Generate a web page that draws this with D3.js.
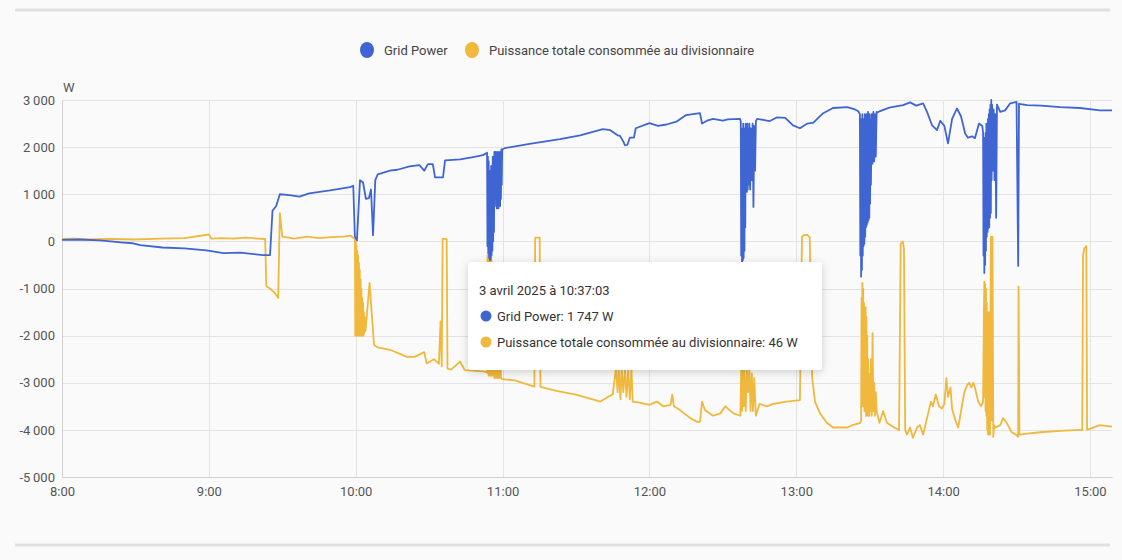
<!DOCTYPE html>
<html>
<head>
<meta charset="utf-8">
<script src="https://cdn.jsdelivr.net/npm/d3@7"></script>
<style>
  html, body { margin: 0; padding: 0; background: #fafafa; }
  svg { display: block; font-family: Roboto, "Noto Sans", sans-serif; }
</style>
</head>
<body>
<svg id="chart" width="1122" height="560"></svg>
<script>
// ---------- DATA ----------
const seriesNames = ["Grid Power", "Puissance totale consommée au divisionnaire"];
const yTicks = [3000, 2000, 1000, 0, -1000, -2000, -3000, -4000, -5000];
const xTickHours = ["08:00","09:00","10:00","11:00","12:00","13:00","14:00","15:00"];
const xDomain = ["08:00", "15:09"];
const unitLabel = "W";
const tooltipTitle = "3 avril 2025 à 10:37:03";
const tooltipValues = [1747, 46];

const gridPower = [
  ["08:00",30],["08:07",40],["08:15:30",20],["08:24",-20],["08:29",-40],["08:32",-80],
  ["08:41",-130],["08:50",-150],["08:59",-190],["09:06",-250],["09:13",-240],["09:22",-290],
  ["09:25",-290],["09:26",650],["09:27:30",750],["09:29",1000],["09:33",980],["09:37",950],
  ["09:41",1020],["09:49:30",1080],["09:57:40",1150],["09:59",1180],["09:59:40",100],
  ["10:00:30",20],["10:01:45",1300],["10:03",1250],["10:04:10",900],["10:05:25",920],
  ["10:06:15",1100],["10:07:05",130],["10:08",1300],["10:09",1420],["10:14",1500],
  ["10:17",1520],["10:22",1590],["10:26",1620],["10:28",1500],["10:29:30",1640],
  ["10:31:30",1640],["10:32:25",1360],["10:35:40",1360],["10:36:30",1720],["10:42:40",1740],
  ["10:48",1790],["10:52",1830],["10:53:40",1880],
  ["10:53:50",-100],["10:54:00",1800],["10:54:10",-250],["10:54:20",1700],["10:54:30",-350],
  ["10:54:40",1500],["10:54:50",-400],["10:55:00",1200],["10:55:10",-380],["10:55:20",1600],
  ["10:55:30",-300],["10:55:40",1400],["10:55:50",-200],["10:56:00",1800],["10:56:10",0],
  ["10:56:20",1700],["10:56:30",200],["10:56:40",1900],["10:57:00",1000],["10:57:10",1900],
  ["10:57:20",750],["10:57:30",1850],["10:57:40",700],["10:57:50",1900],["10:58:00",750],
  ["10:58:10",1800],["10:58:20",700],["10:58:30",1900],["10:58:40",800],["10:58:50",1850],
  ["10:59:00",750],["10:59:10",1900],["10:59:20",900],["10:59:30",1950],["10:59:40",1200],
  ["10:59:50",1950],
  ["11:01",1980],["11:11",2070],["11:23:30",2170],["11:31:40",2250],["11:41",2380],
  ["11:44",2360],["11:47",2250],["11:48",2240],["11:49:30",2100],["11:50",2040],["11:51",2050],
  ["11:52",2200],["11:53:40",2200],["11:54:25",2400],["12:00",2510],["12:03:30",2450],
  ["12:07",2480],["12:11",2540],["12:15",2680],["12:20:40",2720],["12:21:30",2500],
  ["12:23:30",2560],["12:26",2600],["12:30",2560],["12:32",2590],["12:37",2600],
  ["12:37:20",2550],["12:37:30",-300],["12:37:40",2400],["12:37:50",-430],["12:38:00",2300],
  ["12:38:10",-400],["12:38:20",2500],["12:38:30",-350],["12:38:40",2200],["12:38:50",-200],
  ["12:39:00",2400],["12:39:10",300],["12:39:20",2500],["12:39:30",1100],["12:39:40",2300],
  ["12:39:50",1050],["12:40:00",2500],["12:40:10",1100],["12:40:20",2400],["12:40:30",1200],
  ["12:40:50",2500],["12:41:10",1100],["12:41:30",2400],["12:41:50",1300],["12:42:10",2500],
  ["12:42:30",730],["12:42:50",2450],["12:43:10",1500],["12:43:30",2550],["12:44:00",2600],
  ["12:46:30",2580],["12:49",2550],["12:52",2630],["12:55:30",2620],["12:58:40",2460],
  ["13:01:30",2400],["13:04:30",2500],["13:07",2520],["13:11",2720],["13:15",2830],
  ["13:20:50",2850],["13:24",2800],["13:25:20",2760],
  ["13:26:00",2700],["13:26:10",-300],["13:26:20",2600],["13:26:30",-750],["13:26:40",2500],
  ["13:26:50",-600],["13:27:00",2700],["13:27:10",-300],["13:27:20",2600],["13:27:30",-100],
  ["13:27:40",2500],["13:27:50",-50],["13:28:00",2700],["13:28:10",100],["13:28:20",2600],
  ["13:28:30",300],["13:28:40",2700],["13:28:50",350],["13:29:00",2600],["13:29:10",400],
  ["13:29:20",2750],["13:29:30",450],["13:29:40",2650],["13:29:50",500],["13:30:00",2700],
  ["13:30:10",800],["13:30:20",2600],["13:30:30",1200],["13:30:50",2700],["13:31:10",1650],
  ["13:31:30",2750],["13:31:50",1700],["13:32:10",2700],["13:32:30",1800],["13:32:50",2750],
  ["13:33:00",2730],
  ["13:34",2760],["13:38",2840],["13:43:40",2890],["13:46:30",2950],["13:49",2880],
  ["13:51:50",2930],["13:53:25",2750],["13:55:30",2460],["13:57:30",2360],["13:58:50",2560],
  ["14:00:30",2450],["14:02",2080],["14:03:40",2600],["14:05:40",2820],["14:07:20",2650],
  ["14:09",2290],["14:10:10",2200],["14:11:50",2230],["14:13",2190],["14:14:40",2500],
  ["14:16",2450],
  ["14:16:20",2300],["14:16:30",-300],["14:16:40",2200],["14:16:50",-670],["14:17:00",2000],
  ["14:17:10",-500],["14:17:20",2300],["14:17:30",-200],["14:17:40",2500],["14:17:50",100],
  ["14:18:00",2400],["14:18:10",200],["14:18:20",2600],["14:18:30",280],["14:18:40",2700],
  ["14:18:50",300],["14:19:00",2800],["14:19:10",500],["14:19:20",2900],["14:19:30",600],
  ["14:19:40",3000],["14:19:50",1300],["14:20:00",2900],["14:20:20",1500],["14:20:40",2800],
  ["14:21:00",1300],["14:21:20",2700],["14:21:40",500],["14:22:00",2900],
  ["14:23:20",2750],["14:25:20",2780],["14:27:25",2930],["14:30",2960],["14:30:40",-520],
  ["14:31",2920],["14:34:20",2890],["14:40",2880],["14:47:50",2850],["14:56",2830],
  ["15:04",2780],["15:09",2780]
];

const consumption = [
  ["08:00",50],["08:05",60],["08:10",40],["08:20",50],["08:30",40],["08:40",60],["08:50",70],
  ["08:58",130],["09:00",150],["09:01",60],["09:05",70],["09:10",60],["09:15",80],["09:20",60],
  ["09:23",50],["09:23:30",-950],["09:25",-1000],["09:27",-1100],["09:28:20",-1200],
  ["09:29",600],["09:30",100],["09:35",60],["09:40",100],["09:45",70],["09:50",90],
  ["09:55",100],["09:58",120],
  ["09:59:40",50],["09:59:50",-2000],["10:00:00",0],["10:00:10",-2000],["10:00:20",-100],
  ["10:00:30",-2000],["10:00:40",-200],["10:00:50",-2000],["10:01:00",-300],["10:01:10",-2000],
  ["10:01:20",-450],["10:01:30",-2000],["10:01:40",-600],["10:01:50",-2000],["10:02:00",-800],
  ["10:02:10",-2000],["10:02:20",-1000],["10:02:30",-2000],["10:02:40",-1200],["10:02:50",-2000],
  ["10:03:00",-1300],["10:03:10",-2000],["10:03:20",-1500],["10:03:30",-1950],["10:03:40",-1600],
  ["10:04:00",-1900],["10:05:40",-880],["10:06:30",-1500],["10:07:30",-2200],["10:09",-2250],
  ["10:14",-2300],["10:21",-2450],["10:24",-2450],["10:28",-2350],["10:29",-2590],
  ["10:32",-2500],["10:34:00",-2600],["10:34:40",-1700],["10:35:10",-2650],["10:35:30",60],
  ["10:37:10",46],["10:37:30",-2700],["10:39",-2720],["10:42:40",-2550],["10:44:30",-2730],
  ["10:52",-2760],["10:53:40",-2780],
  ["10:53:50",-300],["10:54:00",-2800],["10:54:10",-250],["10:54:20",-2850],["10:54:30",-300],
  ["10:54:40",-2800],["10:54:50",-280],["10:55:00",-2850],["10:55:10",-350],["10:55:20",-2800],
  ["10:55:30",-400],["10:55:40",-2850],["10:55:50",-500],["10:56:00",-2850],["10:56:20",-900],
  ["10:56:40",-2900],["10:57:00",-1200],["10:57:20",-2900],["10:57:40",-1000],["10:58:00",-2900],
  ["10:58:20",-1100],["10:58:40",-2900],["10:59:00",-1100],["10:59:20",-2900],["10:59:40",-2920],
  ["11:01",-2930],["11:05",-2950],["11:13:00",-3080],["11:13:20",80],["11:15:10",80],
  ["11:15:30",-3090],["11:22",-3170],["11:30",-3250],["11:40",-3400],["11:43",-3300],
  ["11:45:00",-3250],["11:46:20",-2700],["11:47:00",-3200],["11:47:30",-2700],["11:48:10",-3350],
  ["11:48:40",-2700],["11:49:20",-3200],["11:50:00",-2700],["11:50:40",-3300],["11:51:20",-2700],
  ["11:52:00",-3350],["11:52:40",-2700],["11:53:10",-3400],
  ["11:56",-3420],["12:00",-3470],["12:03",-3400],["12:05:40",-3500],["12:08:40",-3470],
  ["12:09:20",-3250],["12:10",-3500],["12:12:30",-3580],["12:16:40",-3750],["12:19:30",-3830],
  ["12:20:40",-3830],["12:21:30",-3400],["12:22:40",-3580],["12:26",-3700],["12:29",-3650],
  ["12:31",-3500],["12:34:20",-3650],["12:37:10",-3700],
  ["12:37:30",-2700],["12:37:50",-3600],["12:38:10",-2700],["12:38:30",-3500],["12:38:50",-2700],
  ["12:39:20",-3600],["12:39:50",-2700],["12:40:20",-3200],["12:40:50",-2700],["12:41:20",-3600],
  ["12:41:50",-2800],["12:42:20",-3600],["12:42:50",-2900],["12:43:30",-3700],
  ["12:45",-3450],["12:48",-3500],["12:50:30",-3450],["12:56",-3400],["13:01:30",-3370],
  ["13:02:20",100],["13:03",130],["13:04:30",140],["13:05:30",80],["13:06:30",-2900],
  ["13:07:40",-3400],["13:09:40",-3650],["13:12:30",-3850],["13:15",-3950],["13:20:50",-3950],
  ["13:23",-3900],["13:26:10",-3850],
  ["13:26:30",-3800],["13:26:40",-1200],["13:26:50",-3500],["13:27:00",-880],["13:27:10",-3300],
  ["13:27:20",-1000],["13:27:30",-3500],["13:27:40",-1300],["13:27:50",-3600],["13:28:00",-1500],
  ["13:28:10",-3500],["13:28:20",-1400],["13:28:30",-3700],["13:28:40",-1600],["13:28:50",-3600],
  ["13:29:00",-2000],["13:29:10",-3700],["13:29:20",-2500],["13:29:30",-3600],["13:29:40",-2800],
  ["13:29:50",-3700],["13:30:00",-2900],["13:30:10",-3600],["13:30:30",-2500],["13:30:50",-3700],
  ["13:31:10",-1950],["13:31:30",-3600],["13:31:50",-3000],["13:32:10",-3700],["13:32:30",-3200],
  ["13:32:50",-3600],
  ["13:34",-3850],["13:35:30",-3600],["13:37",-3850],["13:40",-3950],["13:42",-4000],
  ["13:42:40",-50],["13:43:30",0],["13:44:00",-150],["13:44:30",-4000],["13:45:15",-4100],
  ["13:46:30",-3950],["13:47:40",-4170],["13:49:20",-3950],["13:50:30",-3900],["13:51:50",-4100],
  ["13:53:25",-3750],["13:55",-3400],["13:55:50",-3500],["13:57",-3250],["13:58:20",-3500],
  ["13:59:30",-3550],["14:00:30",-3450],["14:01:20",-2900],["14:02",-3300],["14:03",-3100],
  ["14:03:40",-3550],["14:05",-3800],["14:06:10",-3950],["14:07:20",-3600],["14:08:40",-3200],
  ["14:09:50",-3050],["14:10:40",-3000],["14:11:30",-3100],["14:12:20",-3000],["14:13",-3100],
  ["14:14:20",-3400],["14:15:30",-3500],["14:16:20",-3400],
  ["14:16:40",-1500],["14:16:50",-860],["14:17:00",-3300],["14:17:10",-900],["14:17:20",-3600],
  ["14:17:30",-1000],["14:17:40",-3700],["14:17:50",-1300],["14:18:00",-4000],["14:18:10",-1500],
  ["14:18:20",-4100],["14:18:30",-3800],["14:18:40",-1500],["14:18:50",-4100],["14:19:00",-3900],
  ["14:19:10",-4100],["14:19:30",100],["14:19:50",-3800],["14:20:10",100],["14:20:30",-4150],
  ["14:20:50",-3900],["14:21:20",-3950],
  ["14:23:20",-3900],["14:24:30",-3750],["14:26",-3850],["14:28",-4050],["14:29:50",-4100],
  ["14:30:40",-4150],["14:30:50",-960],["14:31:10",-4100],["14:34:20",-4080],["14:39:40",-4050],
  ["14:47:50",-4020],["14:56",-4000],["14:56:50",-4000],["14:57:10",-300],["14:57:40",-150],
  ["14:58:30",-100],["14:58:50",-4000],["15:04",-3900],["15:09",-3930]
];

// ---------- STYLE ----------
const colors = ["#3f65d3", "#f0b83c"];
const W = 1122, H = 560;
const plot = { left: 62, right: 1112, top: 100, bottom: 477 };

function parseT(s) {
  const p = s.split(":").map(Number);
  return new Date(2025, 3, 3, p[0], p[1], p[2] || 0);
}

const svg = d3.select("#chart");
svg.append("rect").attr("width", W).attr("height", H).attr("fill", "#fafafa");

// separator lines
svg.append("line").attr("x1", 15).attr("x2", 1110).attr("y1", 10).attr("y2", 10)
  .attr("stroke", "#e0e0e0").attr("stroke-width", 3);
svg.append("line").attr("x1", 15).attr("x2", 1110).attr("y1", 545).attr("y2", 545)
  .attr("stroke", "#e0e0e0").attr("stroke-width", 3);

const x = d3.scaleTime().domain(xDomain.map(parseT)).range([plot.left, plot.right]);
const y = d3.scaleLinear().domain([-5000, 3000]).range([plot.bottom, plot.top]);

const fr = d3.formatLocale({ decimal: ",", thousands: "\u2009", grouping: [3], currency: ["", " €"], minus: "-" });
const yFmt = fr.format(",d");

// grid lines
const gGrid = svg.append("g");
gGrid.selectAll("line.h").data(yTicks).join("line")
  .attr("x1", plot.left).attr("x2", plot.right)
  .attr("y1", d => Math.round(y(d)) + 0.5).attr("y2", d => Math.round(y(d)) + 0.5)
  .attr("stroke", "#e3e3e3").attr("stroke-width", 1);
const xTicks = xTickHours.map(parseT);
gGrid.selectAll("line.v").data(xTicks).join("line")
  .attr("x1", d => Math.round(x(d)) + 0.5).attr("x2", d => Math.round(x(d)) + 0.5)
  .attr("y1", plot.top).attr("y2", plot.bottom)
  .attr("stroke", "#e3e3e3").attr("stroke-width", 1);

// y axis
const yAxis = d3.axisLeft(y).tickValues(yTicks).tickFormat(yFmt).tickSize(0).tickPadding(7);
const gy = svg.append("g").attr("transform", `translate(${plot.left},0)`).call(yAxis);
gy.select(".domain").attr("stroke", "#d0d0d0");
gy.selectAll("text").attr("fill", "#555").style("font-size", "13px").style("font-family", "Roboto");

// x axis
const xAxis = d3.axisBottom(x).tickValues(xTicks).tickFormat(d3.timeFormat("%-H:%M")).tickSize(0).tickPadding(10);
const gx = svg.append("g").attr("transform", `translate(0,${plot.bottom})`).call(xAxis);
gx.select(".domain").attr("stroke", "#d0d0d0");
gx.selectAll("text").attr("fill", "#555").style("font-size", "13px").style("font-family", "Roboto");

// unit
svg.append("text").attr("x", plot.left + 1).attr("y", 92).text(unitLabel)
  .attr("fill", "#555").style("font-size", "13px");

// clip
svg.append("clipPath").attr("id", "clip").append("rect")
  .attr("x", plot.left).attr("y", plot.top - 5).attr("width", plot.right - plot.left).attr("height", plot.bottom - plot.top + 5);

const line = d3.line().x(d => x(parseT(d[0]))).y(d => y(d[1]));
const gLines = svg.append("g").attr("clip-path", "url(#clip)");
gLines.append("path").datum(consumption).attr("d", line)
  .attr("fill", "none").attr("stroke", colors[1]).attr("stroke-width", 1.8).attr("stroke-linejoin", "round");
gLines.append("path").datum(gridPower).attr("d", line)
  .attr("fill", "none").attr("stroke", colors[0]).attr("stroke-width", 1.8).attr("stroke-linejoin", "round");

// legend
const legend = svg.append("g");
const legItems = [{ cx: 367, tx: 384 }, { cx: 472, tx: 489 }];
seriesNames.forEach((name, i) => {
  legend.append("ellipse").attr("cx", legItems[i].cx).attr("cy", 50).attr("rx", 7).attr("ry", 8).attr("fill", colors[i]);
  legend.append("text").attr("x", legItems[i].tx).attr("y", 55).text(name)
    .attr("fill", "#444").style("font-size", "13px");
});

// tooltip
const defs = svg.append("defs");
const f = defs.append("filter").attr("id", "shadow").attr("x", "-10%").attr("y", "-20%").attr("width", "120%").attr("height", "150%");
f.append("feDropShadow").attr("dx", 0).attr("dy", 2).attr("stdDeviation", 4).attr("flood-color", "#000").attr("flood-opacity", 0.18);

const tt = svg.append("g").attr("transform", "translate(468,262)");
tt.append("rect").attr("width", 354).attr("height", 108).attr("rx", 4).attr("fill", "#fff").attr("filter", "url(#shadow)");
tt.append("text").attr("x", 11).attr("y", 33).text(tooltipTitle).attr("fill", "#333").style("font-size", "13px");
const fmtTT = fr.format(",d");
seriesNames.forEach((name, i) => {
  const cy = 54 + i * 26;
  tt.append("circle").attr("cx", 18).attr("cy", cy).attr("r", 5.5).attr("fill", colors[i]);
  tt.append("text").attr("x", 29).attr("y", cy + 5).text(`${name}: ${fmtTT(tooltipValues[i])} W`)
    .attr("fill", "#333").style("font-size", "13px");
});
</script>
</body>
</html>
